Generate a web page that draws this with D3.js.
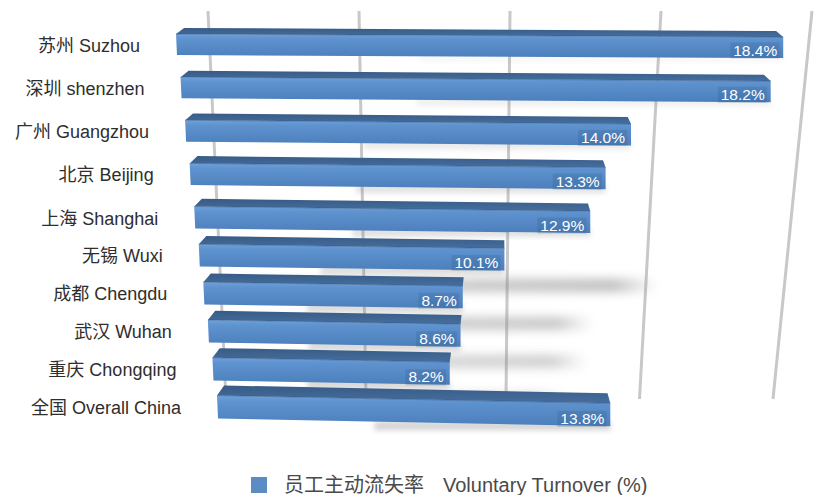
<!DOCTYPE html>
<html><head><meta charset="utf-8">
<script src="https://cdn.jsdelivr.net/npm/d3@7"></script>
<style>
html,body{margin:0;padding:0;background:#fff;}
svg{display:block;}
text{font-family:"Liberation Sans","Noto Sans CJK SC",sans-serif;}
</style></head><body>
<svg id="chart" width="818" height="495"></svg>
<script>
// Voluntary turnover by city
const cities = ["苏州 Suzhou","深圳 shenzhen","广州 Guangzhou","北京 Beijing","上海 Shanghai",
                "无锡 Wuxi","成都 Chengdu","武汉 Wuhan","重庆 Chongqing","全国 Overall China"];
const turnover = [18.4,18.2,14.0,13.3,12.9,10.1,8.7,8.6,8.2,13.8];
const gridTicks = [0,5,10,15,20];
const seriesNameZh = "员工主动流失率";
const seriesNameEn = "Voluntary Turnover (%)";

const svg = d3.select("#chart");
const defs = svg.append("defs");

// Row geometry: rows further down sit further back in the 3D scene
const rowY     = d3.scaleLinear().domain([0,4,9]).range([44.5,217.5,407]);
const rowLeft  = d3.scaleLinear().domain([0,9]).range([176,217]);
const rowUnit  = d3.scaleLinear().domain([0,4,9]).range([33,30.7,28.5]);
const rowFront = d3.scaleLinear().domain([0,9]).range([21,23]);
const rowTop   = d3.scaleLinear().domain([0,9]).range([6,10]);
const rowTilt  = d3.scaleLinear().domain([0,9]).range([0.005,0.02]);
const rowShadow = d3.scaleLinear().domain([0,4,5,8,9]).range([0,0,0.55,0.35,0]).clamp(true);
const rowUnder  = d3.scaleLinear().domain([0,3,9]).range([0.05,0.2,0.3]);
const xFor = i => d3.scaleLinear().domain([0,20]).range([rowLeft(i), rowLeft(i)+20*rowUnit(i)]);
const vanishX = 500, depthF = 0.025;

// Back-wall gridlines
const gridTop = d3.scaleLinear().domain([0,20]).range([208,812]);
const gridBottom = d3.scaleLinear().domain([0,10,20]).range([226,506,773]);
svg.append("g").selectAll("line").data(gridTicks).join("line")
  .attr("x1", d => gridTop(d)).attr("y1", 11)
  .attr("x2", d => gridBottom(d)).attr("y2", 399)
  .attr("stroke", "#c8c8c8").attr("stroke-width", 3);

// Gradients and filters
const gFront = defs.append("linearGradient").attr("id","gFront").attr("x1",0).attr("y1",0).attr("x2",0).attr("y2",1);
[[0,"#6ea1da"],[0.2,"#5f93cf"],[1,"#4b7eba"]].forEach(([o,c]) => gFront.append("stop").attr("offset",o).attr("stop-color",c));
const gTop = defs.append("linearGradient").attr("id","gTop").attr("x1",0).attr("y1",0).attr("x2",0).attr("y2",1);
[[0,"#385b86"],[1,"#466f9e"]].forEach(([o,c]) => gTop.append("stop").attr("offset",o).attr("stop-color",c));
const gShade = defs.append("linearGradient").attr("id","gShade").attr("x1",0).attr("y1",0).attr("x2",1).attr("y2",0);
[[0,"#9a9a9a",0.35],[0.6,"#888",0.8],[0.9,"#888",0.9],[1,"#888",0]].forEach(([o,c,a]) => gShade.append("stop").attr("offset",o).attr("stop-color",c).attr("stop-opacity",a));
defs.append("filter").attr("id","blur6").attr("x","-20%").attr("y","-100%").attr("width","140%").attr("height","300%")
  .append("feGaussianBlur").attr("stdDeviation", 5);
defs.append("filter").attr("id","blur3").attr("x","-20%").attr("y","-100%").attr("width","140%").attr("height","300%")
  .append("feGaussianBlur").attr("stdDeviation", 2.5);

const rows = cities.map((c,i) => {
  const x = xFor(i);
  const L = x(0), R = x(turnover[i]);
  const fh = rowFront(i), th = rowTop(i);
  const ft = rowY(i) - fh/2, fb = ft + fh;
  const dy = rowTilt(i) * (R - L);
  return {city:c, value:turnover[i], i, L, R, fh, th, ft, fb, dy};
});

// Soft cast shadows behind the bars
const shadowG = svg.append("g");
shadowG.selectAll("rect.cast").data(rows).join("rect").attr("class","cast")
  .attr("x", d => d.L + 20).attr("y", d => d.fb + 12)
  .attr("width", d => (d.R - d.L) * 1.5 - 20).attr("height", 14)
  .attr("fill","url(#gShade)").attr("opacity", d => rowShadow(d.i))
  .attr("filter","url(#blur6)");
shadowG.selectAll("rect.under").data(rows).join("rect").attr("class","under")
  .attr("x", d => d.L + (d.R - d.L) * 0.4).attr("y", d => d.fb + d.dy - 5)
  .attr("width", d => (d.R - d.L) * 0.6).attr("height", 9)
  .attr("fill","#777").attr("opacity", d => rowUnder(d.i))
  .attr("filter","url(#blur3)");

// 3D bars: top face plus front face
const barG = svg.append("g").selectAll("g").data(rows).join("g");
barG.append("path").attr("fill","url(#gTop)")
  .attr("d", d => {
    const bl = d.L + (vanishX - d.L) * depthF, br = d.R + (vanishX - d.R) * depthF;
    return d3.line()([[d.L, d.ft],[d.R, d.ft + d.dy],[br, d.ft + d.dy - d.th],[bl, d.ft - d.th]]) + "Z";
  });
barG.append("path").attr("fill","url(#gFront)")
  .attr("d", d => d3.line()([[d.L, d.ft],[d.R, d.ft + d.dy],[d.R, d.fb + d.dy],[d.L + 1, d.fb]]) + "Z");
barG.append("line")
  .attr("x1", d => d.L).attr("y1", d => d.ft).attr("x2", d => d.R).attr("y2", d => d.ft + d.dy)
  .attr("stroke","#2f5480").attr("stroke-opacity",0.5).attr("stroke-width",1);

// Value labels at the bar ends
barG.each(function(d){
  const g = d3.select(this);
  const t = g.append("text")
    .attr("x", d.R - 6).attr("y", d.fb + d.dy - 2.5)
    .attr("text-anchor","end").attr("font-size",15.5).attr("fill","#fff")
    .text(d3.format(".1f")(d.value) + "%");
  const b = t.node().getBBox();
  g.insert("rect","text").attr("x", b.x - 3).attr("y", b.y + 1).attr("width", b.width + 5).attr("height", b.height - 1)
    .attr("fill","#2d5686").attr("opacity",0.22);
});

// City labels
svg.append("g").selectAll("text").data(rows).join("text")
  .attr("x", d => d.L - 36).attr("y", d => rowY(d.i) + 7)
  .attr("text-anchor","end").attr("font-size",18).attr("fill","#2e2e2e")
  .text(d => d.city);

// Legend
const lg = svg.append("g");
lg.append("rect").attr("x",251).attr("y",477).attr("width",16).attr("height",16).attr("fill","#5b8cc3");
const lt = lg.append("text").attr("x",284).attr("y",492).attr("font-size",20).attr("fill","#4a4a4a");
lt.append("tspan").text(seriesNameZh);
lt.append("tspan").attr("x",443).text(seriesNameEn);
</script>
</body></html>
